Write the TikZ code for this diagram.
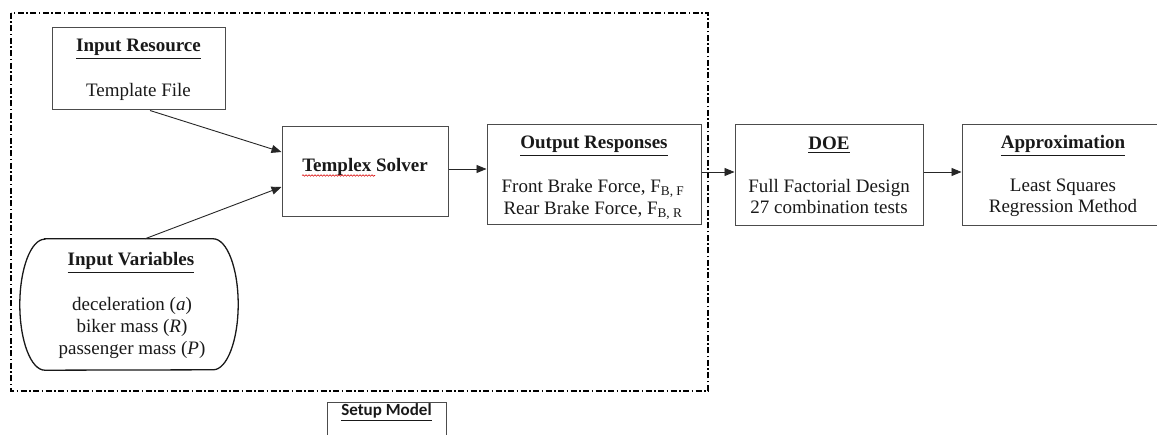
\documentclass[tikz,border=0pt]{standalone}
\usepackage{fontspec}
\setmainfont{Liberation Serif}
\newfontfamily\calibfont{Carlito}
\usetikzlibrary{arrows.meta,decorations.pathmorphing,calc}
\newcommand\ulbox[1]{\vtop{\hbox{#1}\kern1.6pt\hrule height 1.1pt}}
\begin{document}
\begin{tikzpicture}[x=1pt,y=-1pt,
  box/.style={draw=black!70,line width=1pt,inner sep=0pt},
  txt/.style={anchor=base,inner sep=0pt,text=black!90,
    font=\fontsize{19}{22}\selectfont},
  arr/.style={-{Triangle[length=10pt,width=8pt]},line width=0.9pt,draw=black!85},
  frame/.style={line width=1.2pt,dash pattern=on 6pt off 2.5pt on 1.5pt off 2.5pt}]
\useasboundingbox (0,0) rectangle (1157,435);
\clip (0,0) rectangle (1157,435);
\fill[white] (0,0) rectangle (1157,435);

% setup frame
\draw[frame] (11,13) rectangle (708,391);

% boxes
\node[box,minimum width=173pt,minimum height=82pt] (ir) at (138.5,69) {};
\node[box,minimum width=166pt,minimum height=90pt] (ts) at (365,172) {};
\node[box,minimum width=214pt,minimum height=100pt] (or) at (594,175) {};
\node[box,minimum width=188pt,minimum height=101pt] (doe) at (829,175.5) {};
\node[box,minimum width=202pt,minimum height=101pt] (ap) at (1063,175.5) {};
\node[box,minimum width=119pt,minimum height=40pt] (sm) at (386.5,423) {};
\node[inner sep=0pt,minimum width=218pt,minimum height=131pt] (iv) at (129,304.5) {};
\draw[line width=1.3pt,black!90]
  ([xshift=25pt]iv.north west) -- ([xshift=-25pt]iv.north east)
  arc[start angle=90,end angle=-90,x radius=25pt,y radius=65.5pt]
  -- ([xshift=25pt]iv.south west)
  arc[start angle=270,end angle=90,x radius=25pt,y radius=65.5pt] -- cycle;

% texts
\node[txt] (irt) at (138.5,52) {\bfseries\ulbox{Input Resource}};
\node[txt] (irl) at (138.5,97) {Template File};
\node[txt] (tst) at (365,172) {\bfseries Templex Solver};
\draw[red!85!black,line width=0.6pt,decorate,decoration={snake,amplitude=0.8pt,segment length=3pt}]
  ([yshift=-3.5pt]tst.base west) -- ++(73,0);
\node[txt] (ort) at (594,149) {\bfseries\ulbox{Output Responses}};
\node[txt] (orl1) at (593,193) {Front Brake Force, F\textsubscript{B, F}};
\node[txt] (orl2) at (593,215) {Rear Brake Force, F\textsubscript{B, R}};
\node[txt] (doet) at (829,150) {\bfseries\ulbox{DOE}};
\node[txt] (doel1) at (829,193) {Full Factorial Design};
\node[txt] (doel2) at (829,214) {27 combination tests};
\node[txt] (apt) at (1063,149) {\bfseries\ulbox{Approximation}};
\node[txt] (apl1) at (1063,192) {Least Squares};
\node[txt] (apl2) at (1063,213) {Regression Method};
\node[txt] (ivt) at (131,266) {\bfseries\ulbox{Input Variables}};
\node[txt] (ivl1) at (132,311) {deceleration (\textit{a})};
\node[txt] (ivl2) at (132,333) {biker mass (\textit{R})};
\node[txt] (ivl3) at (132,355) {passenger mass (\textit{P})};
\node[txt,font=\calibfont\bfseries\fontsize{17}{20}\selectfont] (smt) at (386.5,416) {\ulbox{Setup Model}};

% connectors
\draw[arr] ([xshift=11.5pt]ir.south) -- ([yshift=20pt]ts.west);
\draw[arr] ([xshift=16pt]iv.north) -- ([yshift=-15pt]ts.west);
\draw[arr] ([yshift=3pt]ts.east) -- ([yshift=3pt]ts.east -| or.west);
\draw[arr] ([yshift=3pt]or.east) -- ([yshift=3pt]or.east -| doe.west);
\draw[arr] ([yshift=3.5pt]doe.east) -- ([yshift=3.5pt]doe.east -| ap.west);
\end{tikzpicture}
\end{document}
